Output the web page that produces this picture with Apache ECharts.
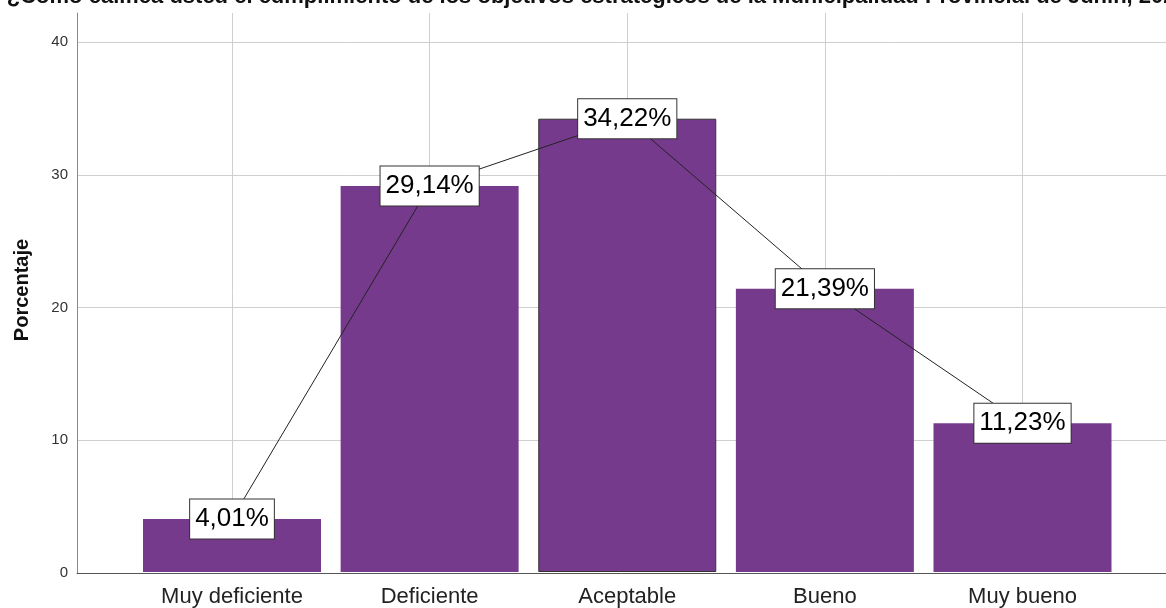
<!DOCTYPE html>
<html>
<head>
<meta charset="utf-8">
<script src="https://cdn.jsdelivr.net/npm/echarts@6/dist/echarts.min.js"></script>
<style>html,body{margin:0;padding:0;background:#fff;}#c{width:1166px;height:608px;}</style>
</head>
<body>
<div id="c"></div>
<script>
const categories = ['Muy deficiente', 'Deficiente', 'Aceptable', 'Bueno', 'Muy bueno'];
const percentages = [4.01, 29.14, 34.22, 21.39, 11.23];
const yTicks = [0, 10, 20, 30, 40];
const titleText = '¿Cómo califica usted el cumplimiento de los objetivos estratégicos de la Municipalidad Provincial de Junín, 2021?';
const yAxisTitle = 'Porcentaje';

const FONT = '"Liberation Sans", Arial, sans-serif';
const BAR = '#763a8c';
const YMAX = 42.2;

const chart = echarts.init(document.getElementById('c'), null, {renderer: 'canvas'});

const fmt = v => v.toFixed(2).replace('.', ',') + '%';

const option = {
  backgroundColor: '#ffffff',
  animation: false,
  grid: [
    {left: 77, right: 0, top: 13, bottom: 35},
    {left: 232, right: 143.5, top: 13, bottom: 35}
  ],
  xAxis: [
    {gridIndex: 0, type: 'value', min: 0, max: 1,
     axisLine: {show: true, onZero: false, lineStyle: {color: '#555', width: 1}},
     axisTick: {show: false}, axisLabel: {show: false}, splitLine: {show: false}},
    {gridIndex: 1, type: 'category', data: categories, boundaryGap: false,
     axisLine: {show: false}, axisTick: {show: false},
     axisLabel: {show: true, color: '#222', fontFamily: FONT, fontSize: 22, margin: 14},
     splitLine: {show: true, lineStyle: {color: '#cfcfcf', width: 1}}}
  ],
  yAxis: [
    {gridIndex: 0, type: 'value', min: 0, max: YMAX, interval: 10,
     axisLine: {show: true, lineStyle: {color: '#8a8a8a', width: 1}},
     axisTick: {show: false},
     axisLabel: {show: true, showMaxLabel: false, color: '#333', fontFamily: FONT, fontSize: 15, margin: 9,
       formatter: v => (yTicks.indexOf(v) >= 0 ? String(v) : '')},
     splitLine: {show: true, showMaxLine: false, lineStyle: {color: '#cfcfcf', width: 1}}},
    {gridIndex: 1, type: 'value', min: 0, max: YMAX, interval: 10, show: false,
     splitLine: {show: false}}
  ],
  graphic: [
    {type: 'text', x: 604, y: 8, z: 10,
     style: {text: titleText, font: 'bold 22px ' + FONT, fill: '#111', textAlign: 'center', textVerticalAlign: 'bottom'}},
    {type: 'text', x: 22, y: 290, rotation: Math.PI / 2, z: 10,
     style: {text: yAxisTitle, font: 'bold 20px ' + FONT, fill: '#111', textAlign: 'center', textVerticalAlign: 'middle'}}
  ],
  series: [
    {type: 'bar', xAxisIndex: 1, yAxisIndex: 1, barWidth: 178, z: 2,
     data: percentages.map((v, i) => i === 2
       ? {value: v, itemStyle: {color: BAR, borderColor: '#333', borderWidth: 1}}
       : {value: v, itemStyle: {color: BAR}}),
     itemStyle: {color: BAR}},
    {type: 'line', xAxisIndex: 1, yAxisIndex: 1, z: 5,
     data: percentages,
     symbol: 'circle', symbolSize: 2, showSymbol: true,
     itemStyle: {color: 'rgba(0,0,0,0)', borderWidth: 0},
     lineStyle: {color: '#222', width: 1},
     label: {show: true, position: 'inside', formatter: p => fmt(p.value),
       color: '#000', fontFamily: FONT, fontSize: 26, backgroundColor: '#fff',
       borderColor: '#333', borderWidth: 1, padding: [5, 5, 4, 5], lineHeight: 30}}
  ]
};
chart.setOption(option);
</script>
</body>
</html>
